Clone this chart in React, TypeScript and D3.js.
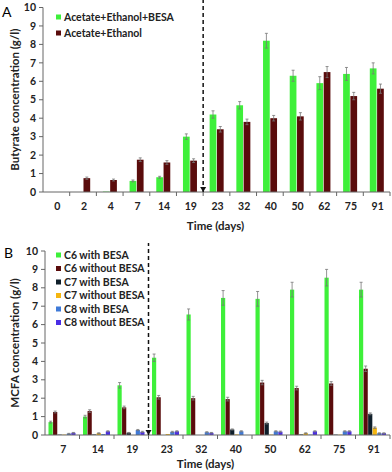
import React from 'react';
import * as d3 from 'd3';

// panel A: butyrate
const daysA = ['0', '2', '4', '7', '14', '19', '23', '32', '40', '50', '62', '75', '91'];
const besaA = [0, 0, 0.02, 0.6, 0.8, 3.0, 4.2, 4.7, 8.2, 6.3, 5.9, 6.4, 6.7];
const besaAErr = [0, 0, 0, 0.05, 0.05, 0.15, 0.2, 0.2, 0.4, 0.3, 0.35, 0.35, 0.3];
const noBesaA = [0, 0.75, 0.65, 1.75, 1.6, 1.7, 3.4, 3.8, 4.0, 4.1, 6.5, 5.2, 5.6];
const noBesaAErr = [0, 0.06, 0.05, 0.1, 0.1, 0.1, 0.15, 0.15, 0.15, 0.2, 0.3, 0.2, 0.25];

// panel B: MCFA
const daysB = ['7', '14', '19', '23', '32', '40', '50', '62', '75', '91'];
const c6With = [0.7, 1.0, 2.7, 4.2, 6.55, 7.45, 7.4, 7.9, 8.55, 7.9];
const c6WithErr = [0.05, 0.07, 0.15, 0.2, 0.3, 0.4, 0.4, 0.4, 0.45, 0.4];
const c6Without = [1.25, 1.3, 1.5, 2.05, 2.0, 1.95, 2.85, 2.55, 2.8, 3.6];
const c6WithoutErr = [0.05, 0.07, 0.07, 0.1, 0.1, 0.1, 0.12, 0.1, 0.1, 0.15];
const c7With = [0.02, 0.03, 0.12, 0, 0, 0.3, 0.65, 0.03, 0.02, 1.15];
const c7WithErr = [0, 0, 0.02, 0, 0, 0.03, 0.05, 0, 0, 0.05];
const c7Without = [0.02, 0.1, 0, 0.05, 0, 0.03, 0.02, 0.1, 0.02, 0.4];
const c7WithoutErr = [0, 0.02, 0, 0, 0, 0, 0, 0.02, 0, 0.04];
const c8With = [0.07, 0.05, 0.27, 0.17, 0.15, 0.2, 0.2, 0.02, 0.2, 0.1];
const c8WithErr = [0.02, 0, 0.03, 0.03, 0.03, 0.03, 0.03, 0, 0.03, 0.02];
const c8Without = [0.12, 0.2, 0.17, 0.2, 0.12, 0, 0.18, 0.2, 0.2, 0.1];
const c8WithoutErr = [0.02, 0.03, 0.03, 0.03, 0.02, 0, 0.03, 0.03, 0.03, 0.02];

const yTicks = [0, 1, 2, 3, 4, 5, 6, 7, 8, 9, 10];

type Series = { name: string; color: string; values: number[]; err: number[] };

const seriesA: Series[] = [
  { name: 'Acetate+Ethanol+BESA', color: '#3ef03a', values: besaA, err: besaAErr },
  { name: 'Acetate+Ethanol', color: '#5a0c0c', values: noBesaA, err: noBesaAErr },
];

const seriesB: Series[] = [
  { name: 'C6 with BESA', color: '#3ef03a', values: c6With, err: c6WithErr },
  { name: 'C6 without BESA', color: '#5a0c0c', values: c6Without, err: c6WithoutErr },
  { name: 'C7 with BESA', color: '#0f1f2a', values: c7With, err: c7WithErr },
  { name: 'C7 without BESA', color: '#f5b610', values: c7Without, err: c7WithoutErr },
  { name: 'C8 with BESA', color: '#3f7ad8', values: c8With, err: c8WithErr },
  { name: 'C8 without BESA', color: '#4a2de6', values: c8Without, err: c8WithoutErr },
];

const font = 'Lato, "Liberation Sans", Arial, sans-serif';

function Panel(props: {
  letter: string; letterY: number; cats: string[]; series: Series[];
  x0: number; x1: number; y0: number; y1: number;
  inner: [number, number]; dashAt: number; yTitle: string; titleX: number; titleDy: number;
  legendY: number; legendStep: number;
}) {
  const { cats, series, x0, x1, y0, y1 } = props;
  const x = d3.scaleBand().domain(cats).range([x0, x1]);
  const y = d3.scaleLinear().domain([0, 10]).range([y0, y1]);
  const sub = d3.scaleBand().domain(series.map(s => s.name)).range(props.inner).paddingInner(0.08);
  const bw = x.bandwidth();
  const dashX = x0 + bw * props.dashAt;
  const axisCol = '#666';
  return (
    <g>
      <text x={props.letter === 'A' ? 2 : 4} y={props.letterY} fontSize={14} fontFamily={font}>{props.letter}</text>
      {/* bars */}
      {series.map(s => (
        <g key={s.name}>
          {cats.map((c, i) => {
            const bx = (x(c) as number) + (sub(s.name) as number);
            const v = s.values[i];
            const e = s.err[i];
            const cx = bx + sub.bandwidth() / 2;
            return (
              <g key={c}>
                {v > 0 && <rect x={bx} y={y(v)} width={sub.bandwidth()} height={y(0) - y(v)} fill={s.color} />}
                {e > 0 && (
                  <g stroke="#777" strokeWidth={0.8}>
                    <line x1={cx} x2={cx} y1={y(v - e)} y2={y(v + e)} />
                    <line x1={cx - 1.5} x2={cx + 1.5} y1={y(v + e)} y2={y(v + e)} />
                    <line x1={cx - 1.5} x2={cx + 1.5} y1={y(v - e)} y2={y(v - e)} />
                  </g>
                )}
              </g>
            );
          })}
        </g>
      ))}
      {/* axes */}
      <line x1={x0} x2={x0} y1={y0} y2={y1} stroke={axisCol} strokeWidth={1} />
      <line x1={x0} x2={x1} y1={y0} y2={y0} stroke={axisCol} strokeWidth={1} />
      {yTicks.map(t => (
        <g key={t}>
          <line x1={x0 - 4} x2={x0} y1={y(t)} y2={y(t)} stroke={axisCol} />
          <text x={x0 - 7} y={y(t)} dy="0.35em" textAnchor="end" fontSize={10.5} fontWeight="bold" fontFamily={font} fill="#222">{t}</text>
        </g>
      ))}
      {cats.map((c, i) => (
        <g key={c}>
          <line x1={x0 + bw * (i + 1)} x2={x0 + bw * (i + 1)} y1={y0} y2={y0 + 4} stroke={axisCol} />
          <text x={(x(c) as number) + bw / 2 + 1} y={y0 + 14} dy="0.35em" textAnchor="middle" fontSize={10.5} fontWeight="bold" fontFamily={font} fill="#222">{c}</text>
        </g>
      ))}
      {/* treatment change marker */}
      <line x1={dashX} x2={dashX} y1={y0} y2={y1 - 8} stroke="#111" strokeWidth={1.5} strokeDasharray="4,3" />
      <path d={`M${dashX - 3},${y0 - 5}L${dashX + 3},${y0 - 5}L${dashX},${y0}Z`} fill="#111" />
      <text x={(x0 + x1) / 2 + props.titleX} y={y0 + props.titleDy} dy="0.35em" textAnchor="middle" fontSize={11.5} fontWeight="bold" fontFamily={font} fill="#222">Time (days)</text>
      <text transform={`translate(15,${(y0 + y1) / 2}) rotate(-90)`} textAnchor="middle" dy="0.35em" fontSize={11.5} fontWeight="bold" fontFamily={font} fill="#222">{props.yTitle}</text>
      {/* legend */}
      {series.map((s, i) => (
        <g key={s.name} transform={`translate(56,${props.legendY + i * props.legendStep})`}>
          <rect x={0} y={-2.5} width={5} height={5} fill={s.color} />
          <text x={8} y={0} dy="0.35em" fontSize={10.5} fontWeight="bold" fontFamily={font} fill="#222">{s.name}</text>
        </g>
      ))}
    </g>
  );
}

export default function App() {
  return (
    <div style={{ position: 'absolute', left: 0, top: 0 }}>
      <svg width={392} height={472} style={{ display: 'block', background: '#fff' }}>
        <Panel letter="A" letterY={17} cats={daysA} series={seriesA} x0={43} x1={390} y0={192} y1={7.5}
          inner={[6.5, 20.5]} dashAt={6} yTitle="Butyrate concentration (g/l)" titleX={-1} titleDy={34}
          legendY={17} legendStep={16} />
        <Panel letter="B" letterY={258} cats={daysB} series={seriesB} x0={45} x1={390} y0={435} y1={251}
          inner={[3.5, 30.5]} dashAt={3} yTitle="MCFA concentration (g/l)" titleX={-12} titleDy={29}
          legendY={255} legendStep={13.5} />
      </svg>
    </div>
  );
}
